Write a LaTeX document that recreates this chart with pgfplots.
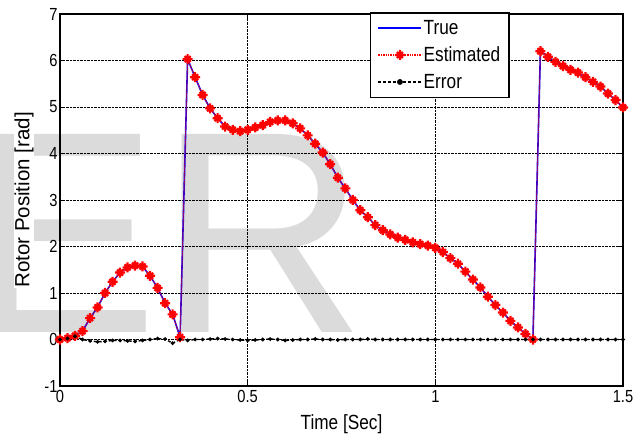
\documentclass[border=0pt]{standalone}
\usepackage{fontspec}
\setmainfont{Liberation Sans}
\usepackage{graphicx}
\usepackage{pgfplots}
\pgfplotsset{compat=1.18}
\usepackage{pgfplotstable}

\newcommand\sq[1]{\scalebox{0.84}[1]{#1}}
\newcommand\tk{\fontsize{17.5}{20}\selectfont}
\newcommand\lb{\fontsize{20.5}{23}\selectfont}

% MATLAB-like '*' marker: plus and cross together
\pgfdeclareplotmark{mstar}{%
  \pgfpathmoveto{\pgfqpoint{-\pgfplotmarksize}{0pt}}%
  \pgfpathlineto{\pgfqpoint{\pgfplotmarksize}{0pt}}%
  \pgfpathmoveto{\pgfqpoint{0pt}{-\pgfplotmarksize}}%
  \pgfpathlineto{\pgfqpoint{0pt}{\pgfplotmarksize}}%
  \pgfpathmoveto{\pgfqpoint{-0.6\pgfplotmarksize}{-0.6\pgfplotmarksize}}%
  \pgfpathlineto{\pgfqpoint{0.6\pgfplotmarksize}{0.6\pgfplotmarksize}}%
  \pgfpathmoveto{\pgfqpoint{-0.6\pgfplotmarksize}{0.6\pgfplotmarksize}}%
  \pgfpathlineto{\pgfqpoint{0.6\pgfplotmarksize}{-0.6\pgfplotmarksize}}%
  \pgfusepathqstroke}

\pgfplotstableread{
t    pos   err
0.00 0.00  0.00
0.02 0.03  0.02
0.04 0.08  0.07
0.06 0.18  0.00
0.08 0.46 -0.03
0.10 0.69 -0.05
0.12 1.00 -0.04
0.14 1.24 -0.02
0.16 1.44 -0.02
0.18 1.55 -0.03
0.20 1.59 -0.04
0.22 1.57 -0.02
0.24 1.37  0.00
0.26 1.11  0.02
0.28 0.78  0.01
0.30 0.54 -0.08
0.32 0.05  0.00
0.34 6.03 -0.02
0.36 5.64  0.00
0.38 5.26  0.00
0.40 4.97  0.01
0.42 4.76  0.02
0.44 4.58  0.01
0.46 4.51  0.00
0.48 4.48 -0.01
0.50 4.51 -0.02
0.52 4.56 -0.01
0.54 4.61  0.00
0.56 4.68  0.01
0.58 4.71  0.00
0.60 4.71 -0.02
0.62 4.65 -0.01
0.64 4.54  0.00
0.66 4.39  0.00
0.68 4.21  0.01
0.70 4.02  0.00
0.72 3.77  0.00
0.74 3.48 -0.01
0.76 3.25  0.00
0.78 3.00  0.00
0.80 2.78  0.00
0.82 2.63  0.01
0.84 2.46  0.00
0.86 2.35  0.00
0.88 2.26  0.00
0.90 2.19  0.00
0.92 2.14  0.00
0.94 2.09  0.00
0.96 2.05  0.00
0.98 2.02  0.00
1.00 1.97  0.00
1.02 1.88  0.00
1.04 1.75  0.00
1.06 1.63  0.00
1.08 1.46  0.00
1.10 1.29  0.00
1.12 1.12  0.00
1.14 0.92  0.00
1.16 0.74  0.00
1.18 0.58  0.00
1.20 0.40  0.00
1.22 0.26  0.00
1.24 0.12  0.00
1.26 0.00  0.00
1.28 6.20  0.00
1.30 6.08  0.00
1.32 5.97  0.00
1.34 5.88  0.00
1.36 5.80  0.00
1.38 5.74  0.00
1.40 5.64  0.00
1.42 5.54  0.00
1.44 5.44  0.00
1.46 5.29  0.00
1.48 5.15  0.00
1.50 4.99  0.00
}\rotor

\begin{document}
\begin{tikzpicture}[x=1pt,y=1pt]
% watermark behind the chart
\node[anchor=base west,inner sep=0pt,text=black!14,
      font=\fontsize{288}{288}\selectfont] at (-94,53) {ER};
\begin{axis}[
  scale only axis, width=563pt, height=372pt,
  xmin=0, xmax=1.5, ymin=-1, ymax=7,
  xtick={0,0.5,1,1.5}, ytick={-1,0,1,2,3,4,5,6,7},
  xticklabels={\sq{0},\sq{0.5},\sq{1},\sq{1.5}},
  yticklabels={\sq{-1},\sq{0},\sq{1},\sq{2},\sq{3},\sq{4},\sq{5},\sq{6},\sq{7}},
  ticklabel style={font=\tk},
  xticklabel style={yshift=-1pt},
  yticklabel style={xshift=1pt},
  grid=major, grid style={black,densely dotted,line width=0.7pt},
  tick align=inside, major tick length=5pt, tick style={black,line width=0.6pt},
  axis line style={black,line width=1.3pt},
  xlabel={\sq{Time [Sec]}},
  ylabel={Rotor Position [rad]},
  every axis x label/.style={at={(axis description cs:0.5,0)},anchor=north,
    yshift=-28pt,font=\lb,inner sep=0pt},
  every axis y label/.style={at={(axis description cs:-0.064,0.5)},anchor=center,
    rotate=90,font=\lb,fill=white,inner sep=0pt},
  legend style={name=leg,at={(rel axis cs:0.7975,1.004)},anchor=north east,
    draw=black,font=\lb,fill=white,
    inner xsep=7pt,inner ysep=6pt,row sep=8pt,
    nodes={inner sep=1.5pt}},
  legend cell align=left,
  legend image code/.code={%
    \draw[mark repeat=2,mark phase=2,#1]
      plot coordinates {(0pt,0pt) (21.5pt,0pt) (43pt,0pt)};},
]
\addplot[draw=blue,line width=1.6pt] table[x=t,y=pos] {\rotor};
\addlegendentry{\sq{True}}
\addplot[draw=red,densely dotted,line width=1pt,mark=mstar,mark size=5pt,
  mark options={solid,draw=red,line width=2.2pt},
  legend image post style={line width=1.4pt}] table[x=t,y=pos] {\rotor};
\addlegendentry{\sq{Estimated}}
\addplot[draw=black,dash pattern=on 3pt off 2pt,line width=1.4pt,mark=*,mark size=1.1pt,
  mark options={solid,fill=black},
  legend image post style={mark size=2.2pt}] table[x=t,y=err] {\rotor};
\addlegendentry{\sq{Error}}
\end{axis}
% heavier legend frame, as in the reference
\draw[black,line width=1.2pt] (leg.south west) rectangle (leg.north east);
\pgfresetboundingbox
\path (-60,-55) rectangle (584,386);
\end{tikzpicture}
\end{document}
